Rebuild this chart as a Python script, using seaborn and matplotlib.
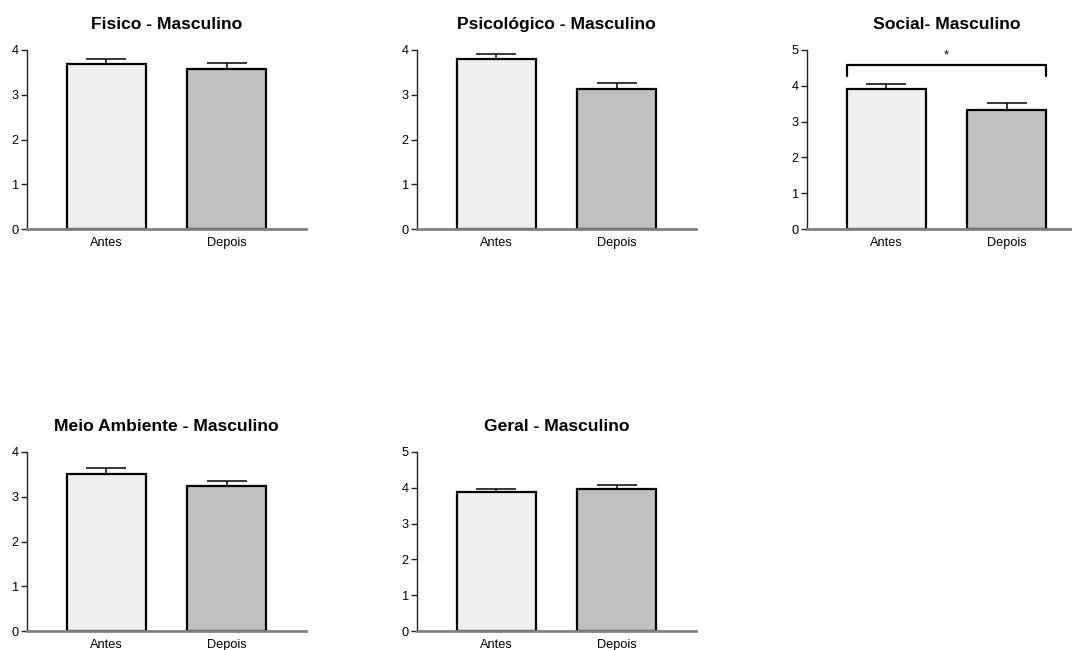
import matplotlib
matplotlib.use("Agg")
import matplotlib.pyplot as plt
import seaborn as sns
import pandas as pd

sns.set_style("white")
plt.rcParams["font.family"] = ["Liberation Sans", "DejaVu Sans"]
plt.rcParams["text.color"] = "black"
plt.rcParams["xtick.color"] = "black"
plt.rcParams["ytick.color"] = "black"

groups = ["Antes", "Depois"]
bar_colors = ["#efefef", "#c0c0c0"]

titles = ["Fisico - Masculino", "Psicológico - Masculino", "Social- Masculino",
          "Meio Ambiente - Masculino", "Geral - Masculino"]

fisico_mean = [3.68, 3.58]
fisico_sem = [0.11, 0.13]
psicologico_mean = [3.81, 3.13]
psicologico_sem = [0.11, 0.13]
social_mean = [3.90, 3.33]
social_sem = [0.15, 0.20]
ambiente_mean = [3.51, 3.23]
ambiente_sem = [0.13, 0.13]
geral_mean = [3.87, 3.98]
geral_sem = [0.11, 0.10]

means = [fisico_mean, psicologico_mean, social_mean, ambiente_mean, geral_mean]
sems = [fisico_sem, psicologico_sem, social_sem, ambiente_sem, geral_sem]
y_max = [4, 4, 5, 4, 5]

# significance bracket on the social panel
sig_panel = 2
sig_level = 4.58
sig_drop = 4.27
sig_label = "*"

W, H = 1072, 650
fig = plt.figure(figsize=(W / 100, H / 100), dpi=100)

lefts = [27, 417, 807, 27, 417]
tops = [50, 50, 50, 452, 452]
bottoms = [229, 229, 229, 631, 631]
ax_w = 279

for i in range(5):
    ax = fig.add_axes([lefts[i] / W, 1 - bottoms[i] / H, ax_w / W,
                       (bottoms[i] - tops[i]) / H])
    df = pd.DataFrame({"grupo": groups, "valor": means[i]})
    sns.barplot(data=df, x="grupo", y="valor", hue="grupo", palette=bar_colors,
                edgecolor="black", linewidth=1.6, width=0.66, errorbar=None,
                legend=False, ax=ax, zorder=2)
    ax.errorbar([0, 1], means[i], yerr=[[0, 0], sems[i]], fmt="none",
                ecolor="black", elinewidth=1.1, capsize=14.4, capthick=1.1,
                zorder=3)
    ax.set_xlim(-0.66, 1.66)
    ax.set_ylim(0, y_max[i])
    ax.set_yticks(range(0, y_max[i] + 1))
    ax.set_xlabel("")
    ax.set_ylabel("")
    ax.set_title(titles[i], fontsize=12.6, fontweight="bold", pad=15,
                 color="black")
    for s in ("top", "right"):
        ax.spines[s].set_visible(False)
    ax.spines["left"].set_color("#222222")
    ax.spines["left"].set_linewidth(1.0)
    ax.spines["bottom"].set_color("#808080")
    ax.spines["bottom"].set_linewidth(2.0)
    ax.tick_params(axis="y", left=True, length=4, width=1, color="#222222",
                   labelsize=9.2, pad=2)
    ax.tick_params(axis="x", bottom=False, labelsize=9.2, pad=2)

    if i == sig_panel:
        x0 = 0 - 0.33
        x1 = 1 + 0.33
        ax.plot([x0, x0, x1, x1], [sig_drop, sig_level, sig_level, sig_drop],
                color="black", lw=1.6, clip_on=False, zorder=4)
        ax.text(0.5, sig_level + 0.1, sig_label, ha="center", va="bottom",
                fontsize=9)

fig.savefig("out.png", dpi=100)
